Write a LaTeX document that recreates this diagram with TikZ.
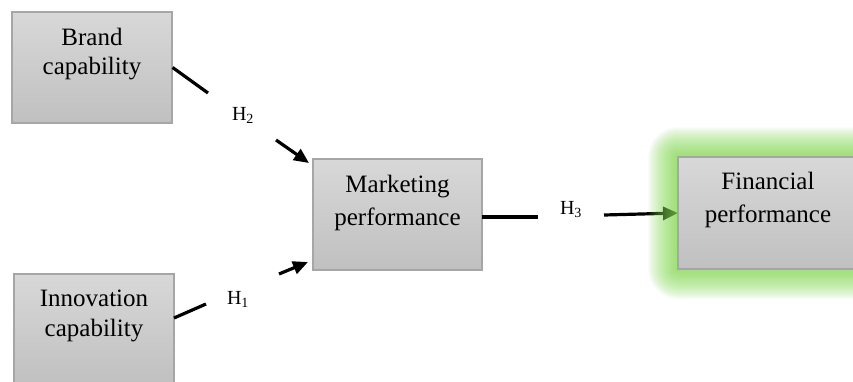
\documentclass[tikz,border=0pt]{standalone}
\usepackage{fontspec}
\setmainfont{Liberation Serif}
\usetikzlibrary{arrows.meta}
\definecolor{boxtop}{HTML}{D8D8D8}
\definecolor{boxbot}{HTML}{C0C0C0}
\definecolor{boxline}{HTML}{A6A6A6}
\definecolor{glowgreen}{HTML}{8AE057}
\tikzset{
  box/.style={draw=boxline, line width=1.2pt, top color=boxtop, bottom color=boxbot, inner sep=0pt},
  boxtext/.style={anchor=north, align=center, inner sep=0pt, text=black},
  hlabel/.style={anchor=base, inner sep=0pt, font=\fontsize{20}{24}\selectfont},
  conn/.style={line width=3.2pt, black},
  arr/.style={conn, -{Triangle[length=15pt,width=13pt]}}
}
\begin{document}
\begin{tikzpicture}[x=1pt,y=-1pt]
\clip (0,0) rectangle (853,381);
\fill[white] (0,0) rectangle (853,381);

% coordinates for broken connectors
\coordinate (b1) at (208,93);
\coordinate (b2) at (276,140);
\coordinate (b3) at (309,163);
\coordinate (i0) at (174,318);
\coordinate (i1) at (206,304);
\coordinate (i2) at (279,274);
\coordinate (i3) at (308,262);
\coordinate (m0) at (482,217);
\coordinate (m1) at (538,217);
\coordinate (f0) at (604,215);

% boxes (shapes)
\node[box, minimum width=160pt, minimum height=111pt] (brand) at (92,67.5) {};
\node[box, minimum width=160pt, minimum height=111pt] (innov) at (94,329.5) {};
\node[box, minimum width=169pt, minimum height=111pt] (mkt) at (397.5,214.5) {};

% connectors
\draw[conn] (brand.east) -- (b1);
\draw[arr] (b2) -- (b3);
\draw[conn] (i0) -- (i1);
\draw[arr] (i2) -- (i3);
\draw[conn] (m0) -- (m1);
\draw[arr] (f0) -- (678,213) coordinate (fw);

% glow around financial box
\foreach \e in {30,29,...,1}{
  \fill[glowgreen, fill opacity=0.042, rounded corners=\e pt]
    ({678-\e},{157-\e}) rectangle ({858+\e},{269+\e});
}
\node[box, minimum width=180pt, minimum height=112pt] (fin) at (768,213) {};

% texts
\node[boxtext, font=\fontsize{25}{29}\selectfont] (brandtxt) at (92,27.5) {Brand\\capability};
\node[boxtext, font=\fontsize{25}{30}\selectfont] (innovtxt) at (94,289.5) {Innovation\\capability};
\node[boxtext, font=\fontsize{25}{33}\selectfont] (mkttxt) at (397.5,174.5) {Marketing\\performance};
\node[boxtext, font=\fontsize{25}{33}\selectfont] (fintxt) at (768,171.5) {Financial\\performance};

\node[hlabel] (h2) at (243,120) {H\textsubscript{2}};
\node[hlabel] (h1) at (238,304) {H\textsubscript{1}};
\node[hlabel] (h3) at (571,214) {H\textsubscript{3}};
\end{tikzpicture}
\end{document}
